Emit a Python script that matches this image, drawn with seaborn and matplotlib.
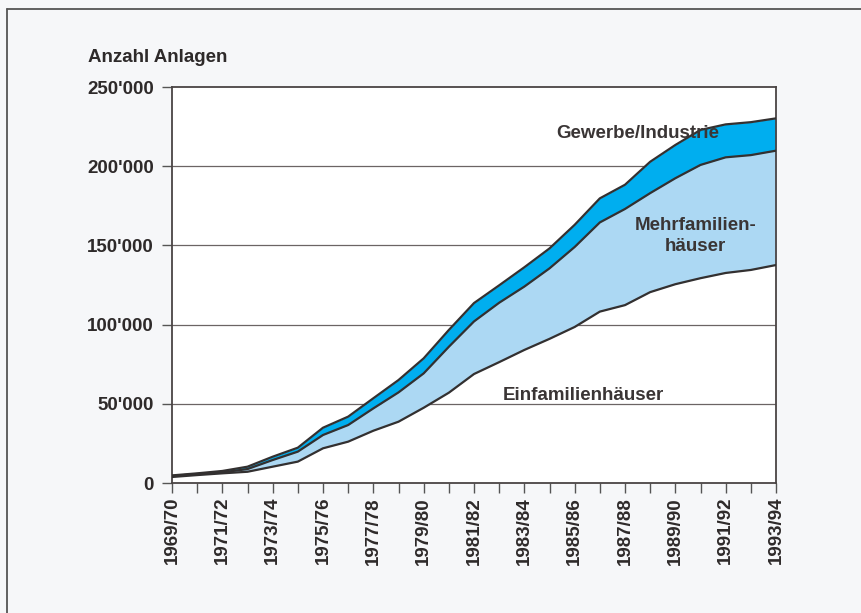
import matplotlib
matplotlib.use("Agg")
import matplotlib.pyplot as plt
import seaborn as sns
import numpy as np
import pandas as pd
from matplotlib.lines import Line2D

years = ["1969/70", "1970/71", "1971/72", "1972/73", "1973/74", "1974/75", "1975/76",
         "1976/77", "1977/78", "1978/79", "1979/80", "1980/81", "1981/82", "1982/83",
         "1983/84", "1984/85", "1985/86", "1986/87", "1987/88", "1988/89", "1989/90",
         "1990/91", "1991/92", "1992/93", "1993/94"]
einfamilien = [3800, 5000, 6100, 7100, 10300, 13500, 21900, 26100, 33000, 38700, 47500,
               57000, 68800, 76300, 84000, 91000, 98500, 108200, 112300, 120500, 125500,
               129300, 132600, 134500, 137600]
mehrfamilien = [600, 700, 600, 1700, 4200, 6300, 8400, 10500, 14100, 18500, 21700, 29000,
                33200, 37500, 40000, 44500, 50500, 56300, 60700, 62500, 66900, 71500,
                73000, 72500, 72200]
gewerbe = [400, 400, 900, 1500, 2100, 2500, 4600, 5300, 6400, 7800, 9500, 10600, 11600,
           11000, 12200, 12600, 14000, 15200, 15300, 19800, 21000, 22100, 20800, 20800,
           20400]
yticks = [0, 50000, 100000, 150000, 200000, 250000]
ytick_labels = ["0", "50'000", "100'000", "150'000", "200'000", "250'000"]

sns.set_theme(style="white")
plt.rcParams['font.family'] = ['Liberation Sans', 'DejaVu Sans']

idx = np.arange(len(years))
e = np.array(einfamilien)
m = e + np.array(mehrfamilien)
t = m + np.array(gewerbe)
df = pd.DataFrame({"i": np.concatenate([idx, idx, idx]),
                   "v": np.concatenate([e, m, t]),
                   "s": ["e"] * len(idx) + ["m"] * len(idx) + ["t"] * len(idx)})

fig = plt.figure(figsize=(8.61, 6.13), dpi=100, facecolor="#f6f7f9")
ax = fig.add_axes([172 / 861, 1 - 483 / 613, 604 / 861, 396 / 613])
ax.set_facecolor("white")

for y in yticks[1:-1]:
    ax.axhline(y, color="#6b6464", lw=0.9, zorder=1)

ax.fill_between(idx, e, m, color="#acd8f3", lw=0, zorder=2)
ax.fill_between(idx, m, t, color="#00aeef", lw=0, zorder=2)
sns.lineplot(data=df, x="i", y="v", units="s", estimator=None, color="#333030",
             lw=1.6, ax=ax, zorder=3, legend=False)

ax.set_xlim(0, len(years) - 1)
ax.set_ylim(0, 250000)
ax.set_xticks(idx)
ax.set_xticklabels([y if k % 2 == 0 else "" for k, y in enumerate(years)],
                   rotation=90, fontsize=13.5, fontweight="bold", color="#2e2a2a")
ax.set_yticks(yticks)
ax.set_yticklabels(ytick_labels, fontsize=13.5, fontweight="bold", color="#2e2a2a")
ax.tick_params(axis="x", direction="out", length=7, width=1, color="#555", pad=3, bottom=True)
ax.tick_params(axis="y", direction="out", length=7, width=1, color="#555", pad=6, left=True)
ax.set_xlabel("")
ax.set_ylabel("")
for sp in ax.spines.values():
    sp.set_color("#4a4444")
    sp.set_linewidth(1.3)

fig.text(88 / 861, 1 - 58 / 613, "Anzahl Anlagen", fontsize=13.5, fontweight="bold",
         color="#2e2a2a", va="center", ha="left")

ax.text(18.5, 220500, "Gewerbe/Industrie", fontsize=13.5, fontweight="bold",
        color="#3a3535", ha="center", va="center", zorder=4)
ax.text(20.8, 156000, "Mehrfamilien-\nhäuser", fontsize=13.5, fontweight="bold",
        color="#3a3535", ha="center", va="center", linespacing=1.3, zorder=4)
ax.text(16.35, 55000, "Einfamilienhäuser", fontsize=13.5, fontweight="bold",
        color="#3a3535", ha="center", va="center", zorder=4)

fig.add_artist(Line2D([7 / 861, 7 / 861], [0, 1 - 9 / 613], transform=fig.transFigure,
                      color="#555", lw=1.3))
fig.add_artist(Line2D([7 / 861, 1], [1 - 9 / 613, 1 - 9 / 613], transform=fig.transFigure,
                      color="#555", lw=1.3))

fig.savefig("out.png", dpi=100, facecolor=fig.get_facecolor())
